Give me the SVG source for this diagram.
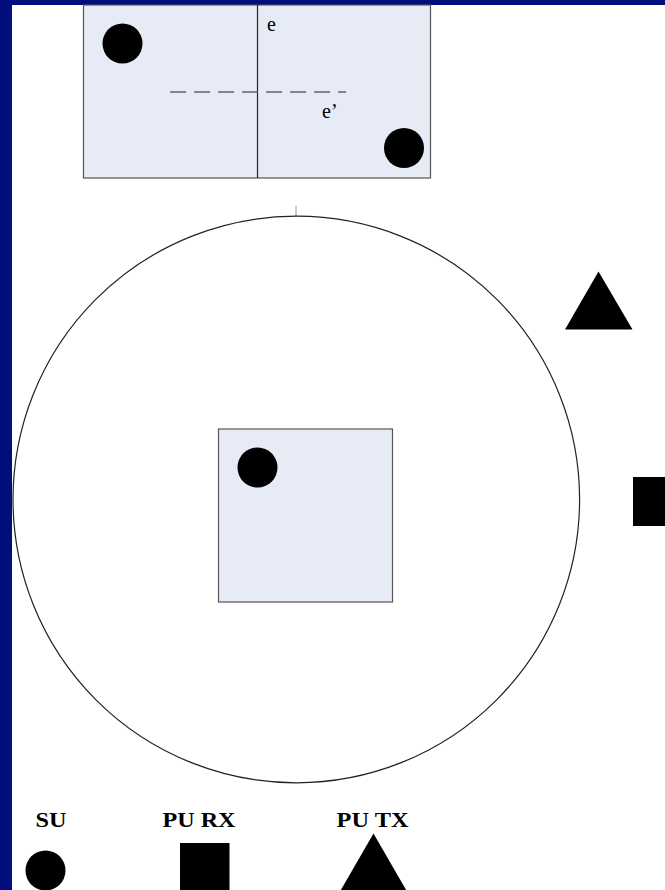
<svg xmlns="http://www.w3.org/2000/svg" width="665" height="890" viewBox="0 0 665 890">
<style>
.panel{fill:#e6ebf6;stroke:#555;stroke-width:1.2}
.dot{fill:#000}
.lbl{font-family:"Liberation Serif",serif;font-size:20px;fill:#000}
.leg{font-family:"Liberation Serif",serif;font-size:21px;font-weight:bold;fill:#000}
</style>
<rect x="0" y="0" width="665" height="890" fill="#000f7c"/>
<rect x="12" y="5" width="653" height="885" fill="#fff"/>
<g id="top-panel">
<rect class="panel" x="83.5" y="5" width="347" height="173"/>
<line x1="257.5" y1="5" x2="257.5" y2="178" stroke="#222" stroke-width="1.2"/>
<line x1="170" y1="92" x2="346" y2="92" stroke="#666" stroke-width="1.5" stroke-dasharray="16,8"/>
<text class="lbl" x="267" y="31">e</text>
<text class="lbl" x="322" y="118">e’</text>
<circle class="dot" cx="122.5" cy="43.5" r="20"/>
<circle class="dot" cx="404" cy="148" r="20"/>
</g>
<g id="coverage">
<line x1="296" y1="206" x2="296" y2="216" stroke="#7aa8a8" stroke-width="1"/>
<circle cx="296.3" cy="499.5" r="283.3" fill="none" stroke="#222" stroke-width="1.2"/>
</g>
<g id="inner-panel">
<rect class="panel" x="218.5" y="429" width="174" height="173"/>
<circle class="dot" cx="257.5" cy="467.5" r="20"/>
</g>
<g id="pu-tx">
<polygon class="dot" points="598.5,271.5 565,329.5 632.5,329.5"/>
</g>
<g id="pu-rx">
<rect class="dot" x="633" y="477" width="40" height="49"/>
</g>
<g id="legend">
<text class="leg" x="51" y="827" text-anchor="middle" textLength="31" lengthAdjust="spacingAndGlyphs">SU</text>
<text class="leg" x="199" y="827" text-anchor="middle" textLength="73" lengthAdjust="spacingAndGlyphs">PU RX</text>
<text class="leg" x="372.5" y="827" text-anchor="middle" textLength="72" lengthAdjust="spacingAndGlyphs">PU TX</text>
<circle class="dot" cx="45.5" cy="870.5" r="20"/>
<rect class="dot" x="180" y="843" width="49.5" height="50"/>
<polygon class="dot" points="373.5,833.5 340,891.5 407,891.5"/>
</g>
</svg>
